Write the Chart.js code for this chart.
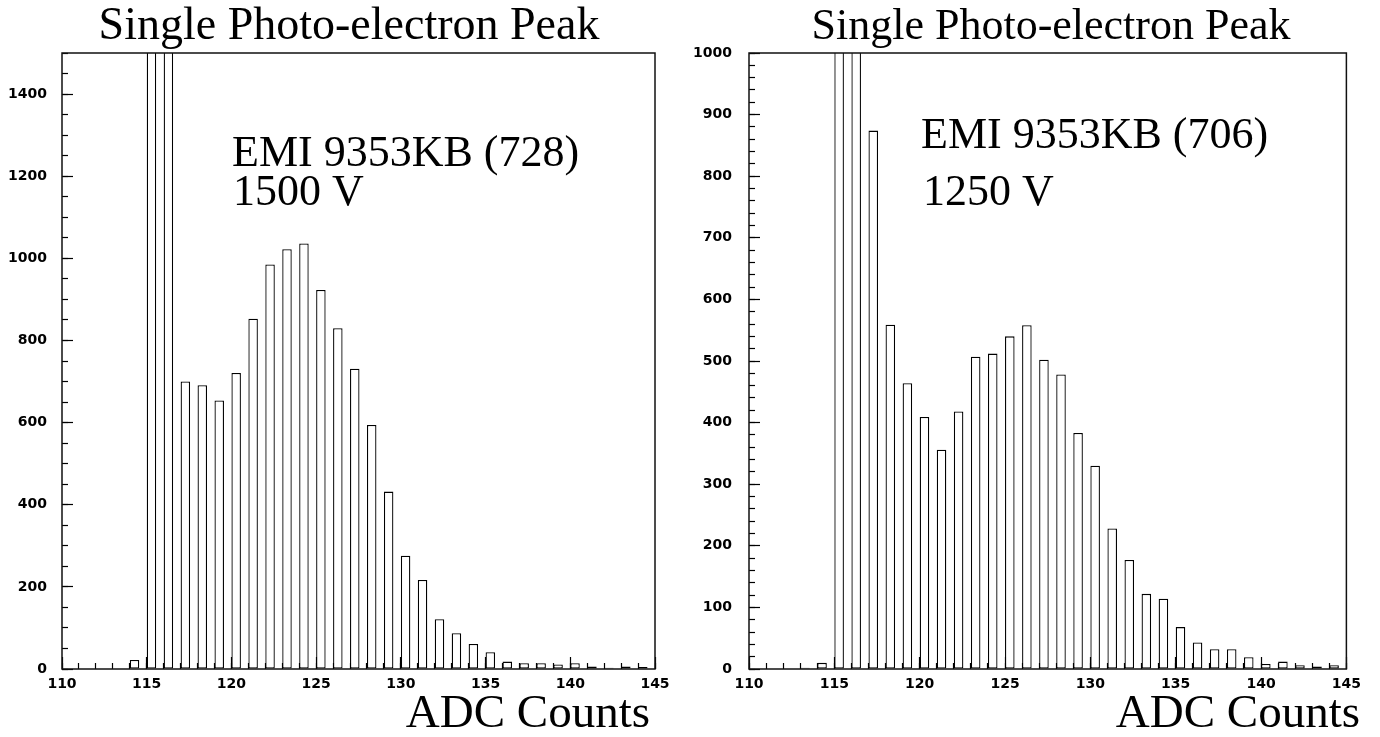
<!DOCTYPE html>
<html>
<head>
<meta charset="utf-8">
<title>Single Photo-electron Peak</title>
<script src="https://cdn.jsdelivr.net/npm/chart.js@4.4.1/dist/chart.umd.min.js"></script>
<style>
  html, body { margin: 0; padding: 0; background: #fff; overflow: hidden; }
  .panel { position: absolute; top: 0; width: 690px; height: 737px; }
  #panel1500 { left: 0; }
  #panel1250 { left: 690px; }
</style>
</head>
<body>
<div class="panel" id="panel1500"><canvas id="chart-1500"></canvas></div>
<div class="panel" id="panel1250"><canvas id="chart-1250"></canvas></div>
<script>
// lower edge of every 1-count ADC bin
var adcBins = [110, 111, 112, 113, 114, 115, 116, 117, 118, 119,
               120, 121, 122, 123, 124, 125, 126, 127, 128, 129,
               130, 131, 132, 133, 134, 135, 136, 137, 138, 139,
               140, 141, 142, 143, 144];

// EMI 9353KB (728) at 1500 V -- bins 115/116 (pedestal) run off the top
var counts1500 = [0, 0, 0, 0, 22, 3000, 2600, 700, 691, 654,
                  721, 853, 985, 1022, 1036, 923, 830, 731, 594, 432,
                  276, 217, 121, 87, 61, 41, 18, 14, 14, 11,
                  14, 6, 3, 6, 5];

// EMI 9353KB (706) at 1250 V
var counts1250 = [0, 0, 0, 2, 10, 2000, 1600, 874, 559, 464,
                  409, 356, 418, 507, 512, 540, 558, 502, 478, 383,
                  330, 228, 177, 122, 114, 68, 43, 32, 32, 19,
                  8, 12, 6, 4, 6];

var xTickLabels = [110, 115, 120, 125, 130, 135, 140, 145];
var yTickLabels1500 = [0, 200, 400, 600, 800, 1000, 1200, 1400];
var yTickLabels1250 = [0, 100, 200, 300, 400, 500, 600, 700, 800, 900, 1000];

var tickFont = { family: '"DejaVu Sans", Arial, sans-serif', size: 14, weight: 'bold' };
var serif = '"Liberation Serif", "Times New Roman", serif';

// PAW style: each bar starts at the low edge of its bin
var binAlign = {
    id: 'binAlign',
    afterDatasetsUpdate: function (chart) {
        var xs = chart.scales.x;
        chart.getDatasetMeta(0).data.forEach(function (bar, i) {
            bar.x = xs.getPixelForValue(adcBins[i]) + bar.width / 2;
        });
    }
};

// box round the plot area
var frame = {
    id: 'frame',
    afterDatasetsDraw: function (chart) {
        var a = chart.chartArea, ctx = chart.ctx;
        ctx.save();
        ctx.strokeStyle = '#111';
        ctx.lineWidth = 1.5;
        ctx.strokeRect(a.left, a.top, a.right - a.left, a.bottom - a.top);
        ctx.restore();
    }
};

var panelText = {
    id: 'panelText',
    afterDraw: function (chart, args, opts) {
        var ctx = chart.ctx;
        ctx.save();
        ctx.fillStyle = '#000';
        ctx.textBaseline = 'alphabetic';
        opts.lines.forEach(function (l) {
            ctx.font = (l.size || 44) + 'px ' + serif;
            ctx.textAlign = l.align || 'left';
            ctx.fillText(l.text, l.x, l.y);
        });
        ctx.restore();
    }
};

function onlyLabels(list) {
    return function (value) {
        return list.indexOf(value) >= 0 ? String(value) : '';
    };
}

function makeHisto(canvasId, counts, cfg) {
    var ctx = document.getElementById(canvasId);
    return new Chart(ctx, {
        type: 'bar',
        data: {
            datasets: [{
                data: adcBins.map(function (b, i) { return { x: b, y: counts[i] }; }),
                xAxisID: 'x',
                yAxisID: 'y',
                backgroundColor: '#fff',
                borderColor: '#000',
                borderWidth: 1.3,
                borderSkipped: false,
                categoryPercentage: 1,
                barPercentage: 0.56
            }]
        },
        options: {
            responsive: true,
            maintainAspectRatio: false,
            animation: false,
            events: [],
            layout: { padding: { top: 53, right: cfg.padRight, left: 0, bottom: 0 } },
            plugins: {
                legend: { display: false },
                tooltip: { enabled: false },
                panelText: { lines: cfg.lines }
            },
            scales: {
                x: {
                    type: 'linear', position: 'bottom', min: 110, max: 145,
                    offset: false, weight: 1,
                    afterFit: function (s) { s.height = 68; },
                    border: { display: false },
                    grid: { offset: false, drawOnChartArea: false, tickLength: -12, tickColor: '#000', tickWidth: 1.2 },
                    ticks: { stepSize: 5, padding: 19, color: '#000', font: tickFont, maxRotation: 0, autoSkip: false,
                             callback: onlyLabels(xTickLabels) }
                },
                xMinor: {
                    type: 'linear', position: 'bottom', min: 110, max: 145,
                    offset: false, weight: 0,
                    afterFit: function (s) { s.height = 0; },
                    border: { display: false },
                    grid: { offset: false, drawOnChartArea: false, tickLength: -6, tickColor: '#000', tickWidth: 1.2 },
                    ticks: { stepSize: 1, display: false }
                },
                y: {
                    type: 'linear', position: 'left', min: 0, max: cfg.yMax, weight: 1,
                    afterFit: function (s) { s.width = cfg.yWidth; },
                    border: { display: false },
                    grid: { drawOnChartArea: false, tickLength: -11, tickColor: '#000', tickWidth: 1.2 },
                    ticks: { stepSize: cfg.yMajor, includeBounds: false, padding: cfg.yPad, color: '#000', font: tickFont,
                             autoSkip: false, callback: onlyLabels(cfg.yLabels) }
                },
                yMinor: {
                    type: 'linear', position: 'left', min: 0, max: cfg.yMax, weight: 0,
                    afterFit: function (s) { s.width = 0; },
                    border: { display: false },
                    grid: { drawOnChartArea: false, tickLength: -6, tickColor: '#000', tickWidth: 1.2 },
                    ticks: { stepSize: cfg.yMinor, display: false }
                }
            }
        },
        plugins: [binAlign, frame, panelText]
    });
}

makeHisto('chart-1500', counts1500, {
    yMax: 1500, yMajor: 200, yMinor: 50, yLabels: yTickLabels1500,
    yWidth: 62, yPad: 26, padRight: 35,
    lines: [
        { text: 'Single Photo-electron Peak', x: 349, y: 39, align: 'center', size: 46 },
        { text: 'EMI 9353KB (728)', x: 232, y: 166 },
        { text: '1500 V', x: 233, y: 205 },
        { text: 'ADC Counts', x: 650, y: 727, align: 'right', size: 47 }
    ]
});

makeHisto('chart-1250', counts1250, {
    yMax: 1000, yMajor: 100, yMinor: 20, yLabels: yTickLabels1250,
    yWidth: 59, yPad: 28, padRight: 33,
    lines: [
        { text: 'Single Photo-electron Peak', x: 361, y: 39, align: 'center' },
        { text: 'EMI 9353KB (706)', x: 231, y: 148 },
        { text: '1250 V', x: 233, y: 205 },
        { text: 'ADC Counts', x: 670, y: 727, align: 'right', size: 47 }
    ]
});
</script>
</body>
</html>
